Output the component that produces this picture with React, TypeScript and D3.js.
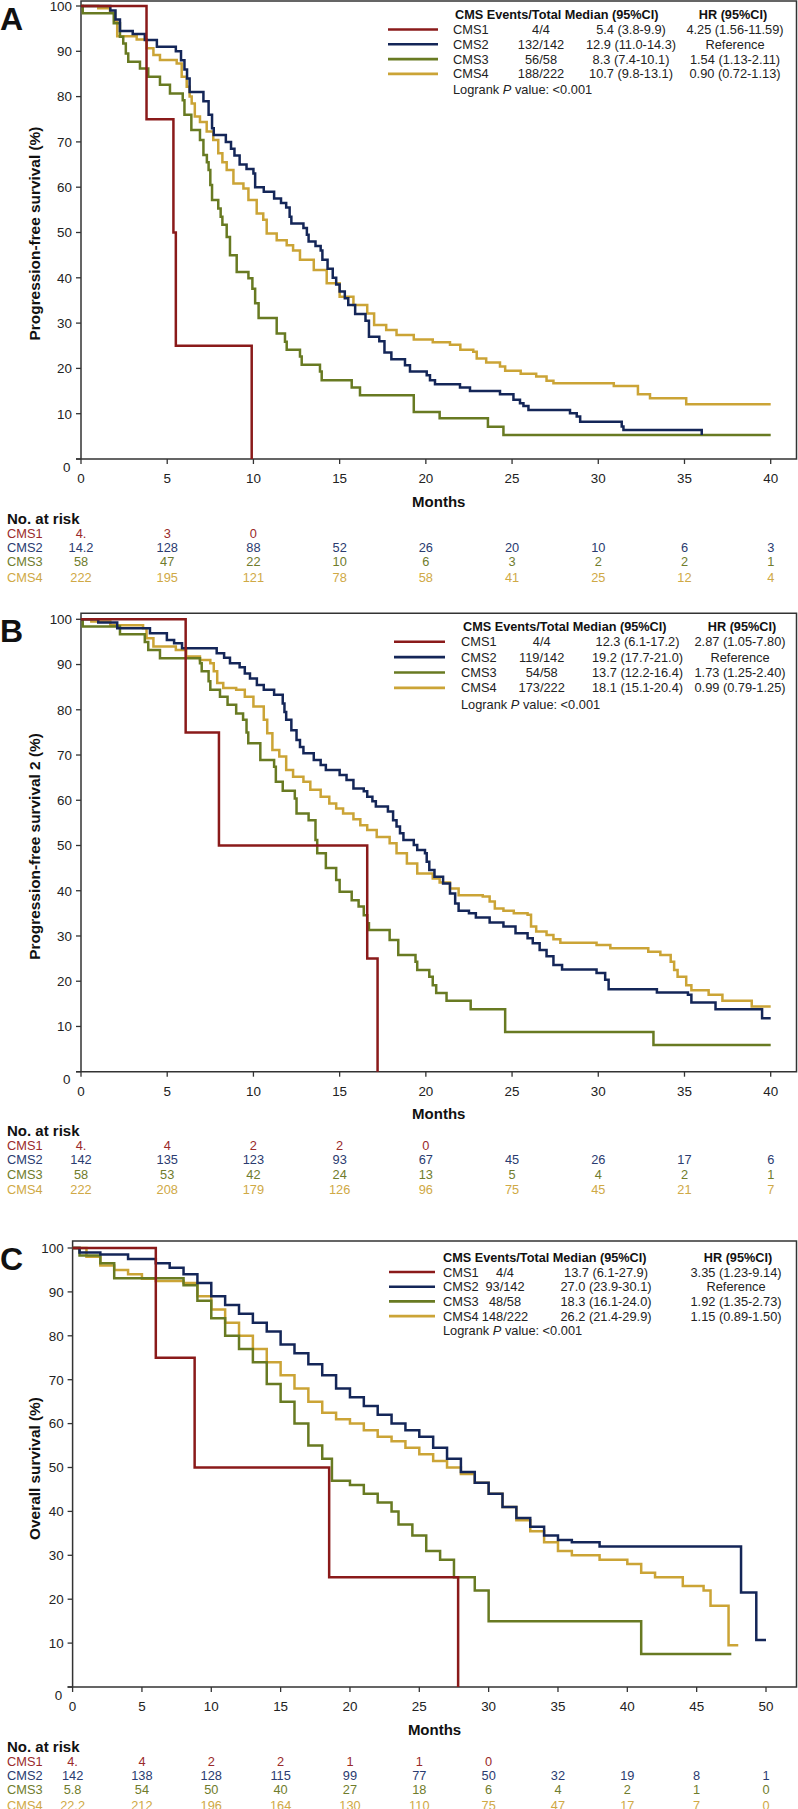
import React from "react";
import * as d3 from "d3";

const FONT = "'Liberation Sans', Arial, Helvetica, sans-serif";
const GROUPS = ["CMS1", "CMS2", "CMS3", "CMS4"];
const LINE_COLORS = ["#8a1a1a", "#142658", "#687a22", "#cba436"];
const TEXT_COLORS = ["#9a2a2a", "#2a3b70", "#6f7c2c", "#cfa945"];

const Y_TICKS = [0, 10, 20, 30, 40, 50, 60, 70, 80, 90, 100];
const X_TICKS_40 = [0, 5, 10, 15, 20, 25, 30, 35, 40];
const X_TICKS_50 = [0, 5, 10, 15, 20, 25, 30, 35, 40, 45, 50];

type Pt = [number, number];

// ---------- Panel A : Progression-free survival ----------
const A_CMS1: Pt[] = [[0, 100], [3.8, 75], [5.36, 50], [5.5, 25], [9.9, 0]];
const A_CMS2: Pt[] = [
  [0, 100], [1.7, 99], [2.0, 97], [2.26, 94.5], [3.0, 93.8], [3.7, 92.5], [4.4, 91], [5.5, 90], [5.8, 88],
  [6.0, 86], [6.15, 84], [6.3, 81], [7.1, 79], [7.4, 76], [7.6, 73], [7.7, 71.5], [8.4, 70], [8.7, 68.5],
  [8.9, 67], [9.2, 65], [9.6, 64], [10.0, 63], [10.1, 60], [10.6, 59], [11.2, 57.5], [11.6, 56.5],
  [11.9, 55.5], [12.1, 53.5], [12.2, 52], [12.9, 51], [13.1, 49.5], [13.2, 48], [13.6, 47], [13.9, 46],
  [14.0, 44], [14.3, 42], [14.6, 40], [14.8, 38.5], [15.0, 37], [15.3, 35.5], [15.5, 34], [15.9, 32],
  [16.5, 30.5], [16.7, 27], [17.3, 26], [17.6, 23.5], [18.0, 22], [18.79, 20.7], [19.08, 19.3],
  [20.05, 18.5], [20.24, 17.4], [20.53, 16.5], [21.98, 15.8], [22.56, 15.0], [24.3, 14.3], [25.08, 13.1],
  [25.46, 12.3], [25.66, 11.7], [25.95, 10.8], [28.36, 10.1], [28.75, 9.4], [28.95, 8.2], [31.36, 7.2],
  [31.46, 6.4], [36.0, 5.3]
];
const A_CMS3: Pt[] = [
  [0, 100], [0.1, 98.4], [1.9, 96.2], [2.26, 93.2], [2.45, 91.7], [2.6, 89.5], [2.74, 87.7], [3.42, 86.2],
  [3.9, 84.4], [4.58, 82.6], [5.16, 80.7], [5.9, 79.2], [6.0, 76.0], [6.4, 72.6], [6.9, 70.4], [7.1, 67.1],
  [7.3, 65.5], [7.4, 63.8], [7.5, 60.5], [7.6, 57.2], [7.96, 55.3], [8.1, 53.5], [8.2, 51.7], [8.45, 49],
  [8.64, 45], [9.03, 41.3], [9.71, 39.9], [9.94, 37.6], [10.1, 34.4], [10.3, 31.1], [11.35, 27.7],
  [11.83, 25.9], [11.93, 24.1], [12.7, 22.6], [12.8, 20.8], [13.86, 19.3], [13.96, 17.4], [15.7, 15.8],
  [16.18, 14.1], [19.3, 10.4], [20.8, 9.0], [23.6, 7.1], [24.5, 5.3], [40, 5.3]
];
const A_CMS4: Pt[] = [
  [0, 100], [1.0, 99.5], [1.68, 98.5], [1.97, 96.5], [2.1, 93.3], [3.23, 92.6], [3.81, 90.7], [4.2, 89.2],
  [4.58, 88.1], [5.55, 87.3], [5.84, 84.4], [6.13, 82.2], [6.3, 80], [6.42, 78.5], [6.6, 75.6], [6.9, 74.4],
  [7.29, 72.3], [7.67, 70.4], [7.96, 67.5], [8.2, 65.5], [8.45, 63.8], [8.84, 60.8], [9.42, 59.7],
  [9.71, 57.2], [10.19, 54.2], [10.57, 52.8], [10.77, 49.8], [11.35, 48.3], [11.93, 47.2], [12.3, 46],
  [12.7, 44], [13.5, 41.7], [14.25, 38.8], [15.0, 35.8], [15.8, 34], [16.6, 32.1], [17.0, 29.6],
  [17.7, 28.5], [18.3, 27.4], [19.3, 26.4], [20.4, 25.8], [21.4, 25.2], [22.0, 24.1], [22.75, 23.7],
  [22.95, 22.2], [23.5, 21.3], [24.3, 20.4], [24.6, 19.5], [25.5, 18.8], [26.4, 18.2], [27.0, 17.3],
  [27.4, 16.7], [30.9, 16.1], [32.3, 14.3], [33.0, 13.4], [35.1, 12.1], [40, 12.1]
];

// ---------- Panel B : Progression-free survival 2 ----------
const B_CMS1: Pt[] = [[0, 100], [6.07, 75], [8.0, 50], [16.6, 25], [17.2, 0]];
const B_CMS2: Pt[] = [
  [0, 100], [1.0, 99.3], [2.1, 98.0], [4.0, 96.9], [4.98, 95.4], [5.4, 94.7], [5.86, 93.6], [7.87, 92.5],
  [8.3, 91.5], [8.64, 90.3], [9.2, 89.4], [9.5, 88], [9.8, 86.9], [10.2, 85.5], [10.6, 84.4], [11.2, 83.3],
  [11.7, 81.4], [11.8, 79.5], [11.9, 77.8], [12.2, 75.5], [12.5, 73.3], [12.7, 71.8], [12.9, 70.4],
  [13.5, 68.9], [13.9, 67.8], [14.2, 66.7], [15.0, 65.6], [15.4, 64.5], [15.8, 62.6], [16.4, 62.0],
  [16.6, 60.8], [16.9, 59.8], [17.1, 58.6], [17.8, 57.5], [18.1, 55.6], [18.3, 54.2], [18.5, 52.7],
  [18.7, 51.2], [19.3, 50.1], [19.5, 49.0], [19.95, 48.3], [20.05, 46.4], [20.2, 44.6], [20.5, 43.1],
  [21.0, 41.6], [21.4, 39.4], [21.7, 37.2], [21.9, 35.6], [22.5, 35.0], [22.9, 34.1], [23.7, 33.0],
  [24.5, 32.1], [25.2, 30.6], [25.9, 29.5], [26.2, 28.4], [26.6, 26.9], [27.0, 25.5], [27.4, 23.6],
  [27.9, 22.6], [29.9, 21.8], [30.4, 20.3], [30.6, 18.2], [33.4, 17.5], [35.2, 17.0], [35.4, 15.3],
  [36.8, 13.8], [39.5, 11.8], [40, 11.8]
];
const B_CMS3: Pt[] = [
  [0, 100], [0.1, 98.4], [2.26, 96.7], [3.7, 95.0], [3.9, 93.2], [4.58, 91.4], [6.9, 90.3], [7.0, 88.5],
  [7.4, 86.3], [7.5, 84.4], [8.06, 82.9], [8.5, 81.1], [9.0, 79.2], [9.4, 77.8], [9.6, 75], [9.7, 72.6],
  [10.4, 68.9], [11.2, 67.4], [11.3, 64.1], [11.7, 62.1], [12.4, 60.4], [12.5, 57.1], [13.2, 55.6],
  [13.6, 51.2], [13.7, 48.3], [14.2, 45.0], [14.8, 42.4], [15.0, 39.8], [15.7, 37.9], [16.1, 36.5],
  [16.4, 34.6], [16.6, 32.8], [16.7, 31.3], [17.9, 29.1], [18.4, 25.8], [19.4, 24.3], [19.5, 22.5],
  [20.2, 21.0], [20.4, 19.1], [20.6, 17.4], [21.2, 15.7], [22.6, 13.8], [24.6, 8.8], [33.2, 5.9], [40, 5.9]
];
const B_CMS4: Pt[] = [
  [0, 100], [0.6, 99.5], [1.7, 98.7], [3.6, 98.0], [3.8, 95.8], [4.2, 94.0], [5.5, 93.2], [6.1, 91.8],
  [6.9, 91.0], [7.5, 90.3], [7.7, 88.5], [7.9, 85.9], [8.25, 84.8], [9.0, 84.4], [9.5, 82.9], [10.0, 80.7],
  [10.6, 77.8], [10.8, 74.8], [11.1, 71.1], [11.5, 69.7], [11.9, 66.7], [12.3, 65.2], [12.9, 64.1],
  [13.3, 62.3], [13.9, 60.8], [14.4, 59.3], [14.8, 58.2], [15.2, 57.1], [15.8, 55.8], [16.2, 54.5],
  [16.6, 53.4], [17.15, 51.9], [17.9, 50.5], [18.3, 48.3], [18.9, 46.0], [19.5, 43.8], [20.4, 42.7],
  [20.8, 41.8], [21.4, 40.5], [21.9, 39.0], [23.3, 38.7], [23.7, 37.6], [24.0, 36.1], [24.5, 35.6],
  [25.1, 35.0], [25.9, 34.7], [26.1, 32.1], [26.4, 31.0], [27.0, 30.2], [27.4, 29.3], [27.8, 28.5],
  [29.9, 28.0], [30.7, 27.3], [32.9, 26.5], [33.6, 25.8], [34.2, 24.3], [34.4, 22.5], [34.6, 21.0],
  [35.1, 19.1], [35.4, 18.0], [36.4, 17.0], [37.2, 15.7], [38.9, 14.4], [40, 14.4]
];

// ---------- Panel C : Overall survival ----------
const C_CMS1: Pt[] = [[0, 100], [6.0, 75], [8.8, 50], [18.5, 25], [27.8, 0]];
const C_CMS2: Pt[] = [
  [0, 100], [0.5, 99], [2, 98.5], [4, 97.5], [6, 96.5], [7, 95.5], [8, 94], [9, 92], [10, 89], [11, 87],
  [12, 85], [13, 83], [14, 81], [15, 78], [16, 76], [17, 73.5], [18, 71], [19, 68], [20, 66], [21, 64],
  [22, 62], [23, 60], [24, 58.5], [25, 57], [26, 54.5], [27, 52], [28, 49], [29, 46.5], [30, 44], [31, 41],
  [32, 38.5], [33, 36.5], [34, 34.5], [35, 33.5], [36, 33], [38, 32], [48.2, 21.5], [49.3, 10.7], [50, 10.7]
];
const C_CMS3: Pt[] = [
  [0, 100], [0.5, 98.3], [2, 96.5], [3, 93.1], [8, 91.5], [9, 88], [10, 84], [11, 80], [12, 77], [13, 74],
  [14, 69], [15, 65], [16, 60], [17, 55], [18, 52], [18.7, 47], [20, 46], [21, 44], [22, 42], [23, 40],
  [23.5, 37], [24.5, 34.5], [25.5, 31], [26.5, 29], [27.5, 25], [29, 22], [30, 15], [41, 7.5], [47.5, 7.5]
];
const C_CMS4: Pt[] = [
  [0, 100], [1, 98], [2, 96], [3, 95], [4, 94], [5, 93], [6, 92.5], [8, 92], [9, 89], [10, 86], [11, 83],
  [12, 80], [13, 77], [14, 74], [15, 71], [16, 68], [17, 65], [18, 62.5], [19, 61], [20, 60], [21, 58.5],
  [22, 57], [23, 56], [24, 54.5], [25, 53], [26, 51.5], [27, 50], [28, 48.5], [29, 46.5], [30, 44], [31, 41],
  [32, 38], [33, 35.5], [34, 33], [35, 31], [36, 30], [38, 29], [40, 28], [41, 26], [42, 25], [44, 23],
  [45.5, 22], [46, 18.5], [47.3, 9.5], [48, 9.5]
];

// ---------- Legend tables ----------
const A_EVENTS = ["4/4", "132/142", "56/58", "188/222"];
const A_MEDIAN = ["5.4 (3.8-9.9)", "12.9 (11.0-14.3)", "8.3 (7.4-10.1)", "10.7 (9.8-13.1)"];
const A_HR = ["4.25 (1.56-11.59)", "Reference", "1.54 (1.13-2.11)", "0.90 (0.72-1.13)"];
const B_EVENTS = ["4/4", "119/142", "54/58", "173/222"];
const B_MEDIAN = ["12.3 (6.1-17.2)", "19.2 (17.7-21.0)", "13.7 (12.2-16.4)", "18.1 (15.1-20.4)"];
const B_HR = ["2.87 (1.05-7.80)", "Reference", "1.73 (1.25-2.40)", "0.99 (0.79-1.25)"];
const C_EVENTS = ["4/4", "93/142", "48/58", "148/222"];
const C_MEDIAN = ["13.7 (6.1-27.9)", "27.0 (23.9-30.1)", "18.3 (16.1-24.0)", "26.2 (21.4-29.9)"];
const C_HR = ["3.35 (1.23-9.14)", "Reference", "1.92 (1.35-2.73)", "1.15 (0.89-1.50)"];

// ---------- Numbers at risk ----------
const A_RISK = [
  ["4.", "3", "0"],
  ["14.2", "128", "88", "52", "26", "20", "10", "6", "3"],
  ["58", "47", "22", "10", "6", "3", "2", "2", "1"],
  ["222", "195", "121", "78", "58", "41", "25", "12", "4"]
];
const B_RISK = [
  ["4.", "4", "2", "2", "0"],
  ["142", "135", "123", "93", "67", "45", "26", "17", "6"],
  ["58", "53", "42", "24", "13", "5", "4", "2", "1"],
  ["222", "208", "179", "126", "96", "75", "45", "21", "7"]
];
const C_RISK = [
  ["4.", "4", "2", "2", "1", "1", "0"],
  ["142", "138", "128", "115", "99", "77", "50", "32", "19", "8", "1"],
  ["5.8", "54", "50", "40", "27", "18", "6", "4", "2", "1", "0"],
  ["22.2", "212", "196", "164", "130", "110", "75", "47", "17", "7", "0"]
];

interface Legend {
  lineX1: number; lineX2: number; labelX: number; eventsX: number; medianX: number; hrX: number;
  headerX: number; hrHeaderX: number; headerY: number; rowY0: number; rowDy: number; logrankY: number;
}
interface PanelCfg {
  letter: string; top: number; y100: number; y0: number; x0: number; xEnd: number; xMax: number;
  right: number; xTicks: number[]; yTitle: string; curves: Pt[][]; risk: string[][];
  events: string[]; median: string[]; hr: string[]; legend: Legend;
}

const PANELS: PanelCfg[] = [
  {
    letter: "A", top: 1, y100: 6, y0: 459, x0: 81, xEnd: 770.7, xMax: 40, right: 796.5,
    xTicks: X_TICKS_40, yTitle: "Progression-free survival (%)",
    curves: [A_CMS1, A_CMS2, A_CMS3, A_CMS4], risk: A_RISK,
    events: A_EVENTS, median: A_MEDIAN, hr: A_HR,
    legend: { lineX1: 388, lineX2: 438, labelX: 453, eventsX: 541, medianX: 631, hrX: 735, headerX: 455,
      hrHeaderX: 733, headerY: 14.7, rowY0: 29.5, rowDy: 14.8, logrankY: 89.5 }
  },
  {
    letter: "B", top: 613.3, y100: 619.3, y0: 1071.7, x0: 81, xEnd: 770.7, xMax: 40, right: 796.5,
    xTicks: X_TICKS_40, yTitle: "Progression-free survival 2 (%)",
    curves: [B_CMS1, B_CMS2, B_CMS3, B_CMS4], risk: B_RISK,
    events: B_EVENTS, median: B_MEDIAN, hr: B_HR,
    legend: { lineX1: 394, lineX2: 445, labelX: 461, eventsX: 541.7, medianX: 637.5, hrX: 740, headerX: 463,
      hrHeaderX: 742, headerY: 626, rowY0: 641.7, rowDy: 15.4, logrankY: 704.7 }
  },
  {
    letter: "C", top: 1241, y100: 1248, y0: 1687, x0: 72.6, xEnd: 766, xMax: 50, right: 796.5,
    xTicks: X_TICKS_50, yTitle: "Overall survival (%)",
    curves: [C_CMS1, C_CMS2, C_CMS3, C_CMS4], risk: C_RISK,
    events: C_EVENTS, median: C_MEDIAN, hr: C_HR,
    legend: { lineX1: 389, lineX2: 435, labelX: 443, eventsX: 505, medianX: 606, hrX: 736, headerX: 443,
      hrHeaderX: 738, headerY: 1257, rowY0: 1272, rowDy: 14.7, logrankY: 1330 }
  }
];

const AXIS = "#333333";

function Panel({ cfg }: { cfg: PanelCfg }) {
  const x = d3.scaleLinear().domain([0, cfg.xMax]).range([cfg.x0, cfg.xEnd]);
  const y = d3.scaleLinear().domain([0, 100]).range([cfg.y0, cfg.y100]);
  const line = d3.line<Pt>().x((d) => x(d[0])).y((d) => y(d[1])).curve(d3.curveStepAfter);
  const L = cfg.legend;
  const order = [3, 2, 1, 0];
  return (
    <g fontFamily={FONT}>
      <path
        d={`M${cfg.x0},${cfg.y0} V${cfg.top} H${cfg.right} V${cfg.y0} H${cfg.x0 - 5}`}
        fill="none" stroke={AXIS} strokeWidth={1.5}
      />
      {Y_TICKS.map((t) => (
        <g key={"y" + t}>
          <line x1={cfg.x0 - 5} x2={cfg.x0} y1={y(t)} y2={y(t)} stroke={AXIS} strokeWidth={1.3} />
          <text
            x={t === 0 ? cfg.x0 - 10.5 : cfg.x0 - 9}
            y={t === 0 ? y(t) + 12.5 : y(t) + 4.8}
            textAnchor="end" fontSize={13.4} fill="#222"
          >{t}</text>
        </g>
      ))}
      {cfg.xTicks.map((t) => (
        <g key={"x" + t}>
          <line x1={x(t)} x2={x(t)} y1={cfg.y0} y2={cfg.y0 + 5} stroke={AXIS} strokeWidth={1.3} />
          <text x={x(t)} y={cfg.y0 + 23.8} textAnchor="middle" fontSize={13.4} fill="#222">{t}</text>
        </g>
      ))}
      <text x={(cfg.x0 + cfg.right) / 2} y={cfg.y0 + 47.5} textAnchor="middle" fontSize={15} fontWeight="bold" fill="#111">
        Months
      </text>
      <text
        transform={`translate(35,${(cfg.y0 + cfg.y100) / 2 + 1}) rotate(-90)`}
        textAnchor="middle" dy="0.35em" fontSize={15.4} fontWeight="bold" fill="#111"
      >{cfg.yTitle}</text>
      <text x={0} y={cfg.top + 29} fontSize={32} fontWeight="bold" fill="#111">{cfg.letter}</text>

      {order.map((i) => (
        <path key={"c" + i} d={line(cfg.curves[i]) || ""} fill="none" stroke={LINE_COLORS[i]}
          strokeWidth={2.5} strokeLinejoin="miter" />
      ))}

      <text x={L.headerX} y={L.headerY + 4.5} fontSize={12.7} fontWeight="bold" fill="#111">
        CMS Events/Total Median (95%CI)
      </text>
      <text x={L.hrHeaderX} y={L.headerY + 4.5} fontSize={12.7} fontWeight="bold" fill="#111" textAnchor="middle">
        HR (95%CI)
      </text>
      {GROUPS.map((g, i) => {
        const ry = L.rowY0 + i * L.rowDy;
        return (
          <g key={"lg" + i} fontSize={12.8} fill="#222">
            <line x1={L.lineX1} x2={L.lineX2} y1={ry} y2={ry} stroke={LINE_COLORS[i]} strokeWidth={2.6} />
            <text x={L.labelX} y={ry + 4.5}>{g}</text>
            <text x={L.eventsX} y={ry + 4.5} textAnchor="middle">{cfg.events[i]}</text>
            <text x={L.medianX} y={ry + 4.5} textAnchor="middle">{cfg.median[i]}</text>
            <text x={L.hrX} y={ry + 4.5} textAnchor="middle">{cfg.hr[i]}</text>
          </g>
        );
      })}
      <text x={L.labelX} y={L.logrankY + 4.5} fontSize={12.8} fill="#222">
        Logrank <tspan fontStyle="italic">P</tspan> value: &lt;0.001
      </text>

      <text x={7} y={cfg.y0 + 64.5} fontSize={15} fontWeight="bold" fill="#111">No. at risk</text>
      {GROUPS.map((g, i) => {
        const ry = cfg.y0 + [78.5, 92.5, 106.8, 122.5][i];
        return (
          <g key={"rk" + i} fontSize={12.8} fill={TEXT_COLORS[i]}>
            <text x={7} y={ry}>{g}</text>
            {cfg.risk[i].map((v, j) => (
              <text key={j} x={x(cfg.xTicks[j])} y={ry} textAnchor="middle">{v}</text>
            ))}
          </g>
        );
      })}
    </g>
  );
}

export default function App() {
  return (
    <svg width={798} height={1809} viewBox="0 0 798 1809"
      style={{ position: "absolute", left: 0, top: 0, background: "#fff" }}>
      <rect x={0} y={0} width={798} height={1809} fill="#fff" />
      {PANELS.map((p) => <Panel key={p.letter} cfg={p} />)}
    </svg>
  );
}
